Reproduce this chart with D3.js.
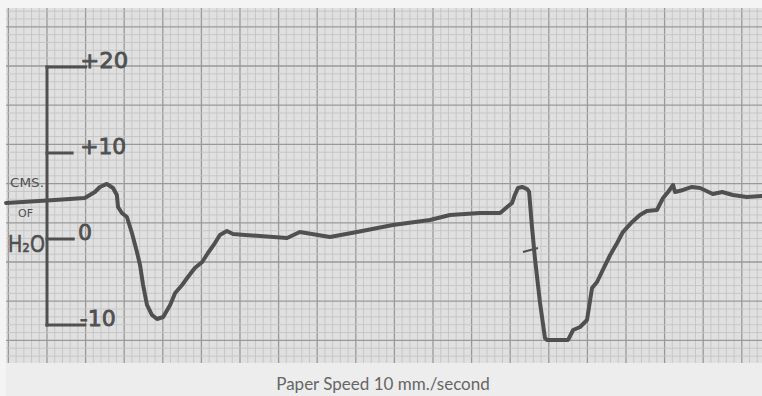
<!DOCTYPE html>
<html>
<head>
<meta charset="utf-8">
<script src="https://cdn.jsdelivr.net/npm/d3@7"></script>
<style>
  html,body{margin:0;padding:0;background:#f4f4f4;}
  svg{display:block;}
</style>
</head>
<body>
<svg id="chart" width="762" height="396"></svg>
<script>
// ---- data ----
// time (seconds, paper speed 10 mm/s) and pressure (cms of H2O)
const traceTime = [-1.06,0,0.98,1.24,1.37,1.55,1.71,1.81,1.84,1.94,2.07,2.20,2.33,2.41,2.49,2.59,2.72,2.85,3.01,3.19,3.32,3.50,3.65,3.83,4.02,4.17,4.35,4.48,4.66,4.82,5.13,5.52,
  6.22,6.55,7.33,8.03,8.96,9.92,10.44,11.22,
  11.74,11.92,12.05,12.12,12.20,12.31,12.44,12.49,12.56,12.64,12.77,12.90,12.95,13.50,13.63,13.81,13.99,14.12,14.25,14.40,14.59,14.77,14.92,15.16,15.36,15.54,15.80,15.96,16.09,16.22,16.27,16.48,16.71,16.92,17.25,17.49,17.77,18.13,18.52];
const tracePressure = [4.19,4.48,4.77,5.47,6.05,6.40,5.93,5.12,3.72,3.02,2.56,0.70,-1.51,-3.02,-5.35,-7.67,-8.84,-9.30,-9.07,-7.67,-6.28,-5.35,-4.42,-3.37,-2.67,-1.63,-0.47,0.47,0.93,0.58,0.47,0.35,
  0.12,0.81,0.23,0.81,1.63,2.21,2.79,3.02,
  3.02,3.72,4.19,5.12,5.93,6.05,5.81,5.47,1.63,-2.21,-7.33,-11.51,-11.74,-11.74,-10.58,-10.23,-9.42,-5.70,-5.00,-3.60,-1.86,-0.47,0.81,1.98,2.79,3.26,3.37,4.77,5.47,6.28,5.47,5.70,6.05,5.93,5.23,5.47,5.12,4.88,5.00];
const penMarkTime = [12.33, 12.72];
const penMarkPressure = [-1.51, -1.05];
const tickValues = [20, 10, 0, -10];
const tickLabels = ["+20", "+10", "0", "-10"];
const unitLabels = ["CMS.", "OF", "H\u2082O"];
const caption = "Paper Speed 10 mm./second";

// ---- scales ----
const x = d3.scaleLinear().domain([0, 1]).range([47, 85.6]);        // seconds -> px
const y = d3.scaleLinear().domain([0, 10]).range([239, 153]);       // cmH2O -> px
const yPaper = d3.scaleLinear().domain([0, 10]).range([66, 105.2]); // paper mm -> px

const svg = d3.select("#chart");
const paperLeft = 6, paperRight = 762, paperTop = 8, paperBottom = 363;

svg.append("rect").attr("x", 0).attr("y", 0).attr("width", 762).attr("height", 396).attr("fill", "#f4f4f4");
svg.append("rect").attr("x", paperLeft).attr("y", paperBottom).attr("width", 762 - paperLeft).attr("height", 396 - paperBottom).attr("fill", "#ededed");
svg.append("rect").attr("x", paperLeft).attr("y", paperTop).attr("width", paperRight - paperLeft).attr("height", paperBottom - paperTop).attr("fill", "#e0e0e0");

const grid = svg.append("g");
const tMin = x.invert(paperLeft), tMax = x.invert(paperRight);
const vTicks = d3.range(Math.ceil(tMin * 5), Math.floor(tMax * 5) + 1).map(i => i / 5);
const mmMin = yPaper.invert(paperTop), mmMax = yPaper.invert(paperBottom);
const hTicks = d3.range(Math.ceil(mmMin / 2), Math.floor(mmMax / 2) + 1).map(i => i * 2);
const isMajorT = d => Math.abs(d - Math.round(d)) < 1e-6;

grid.selectAll("line.v").data(vTicks).join("line").attr("class", "v")
  .attr("x1", d => x(d)).attr("x2", d => x(d))
  .attr("y1", paperTop).attr("y2", paperBottom)
  .attr("stroke", d => isMajorT(d) ? "#999" : "#c4c4c4")
  .attr("stroke-width", d => isMajorT(d) ? 1.3 : 0.9);
grid.selectAll("line.h").data(hTicks).join("line").attr("class", "h")
  .attr("y1", d => yPaper(d)).attr("y2", d => yPaper(d))
  .attr("x1", paperLeft).attr("x2", paperRight)
  .attr("stroke", d => d % 10 === 0 ? "#999" : "#c4c4c4")
  .attr("stroke-width", d => d % 10 === 0 ? 1.3 : 0.9);

const ink = "#505050";
// hand-drawn calibration axis
const ax = svg.append("g").attr("stroke", ink).attr("stroke-width", 3).attr("fill", "none").attr("stroke-linecap", "square");
ax.append("line").attr("x1", x(0)).attr("x2", x(0)).attr("y1", y(20)).attr("y2", y(-10));
const tickLen = {"20": 1.0, "10": 0.65, "0": 0.68, "-10": 0.98};
tickValues.forEach(v => {
  ax.append("line").attr("x1", x(0)).attr("x2", x(tickLen[v])).attr("y1", y(v)).attr("y2", y(v));
});
const labels = svg.append("g").attr("fill", ink).attr("stroke", ink).attr("stroke-width", 0.8)
  .attr("font-family", "DejaVu Sans").attr("font-size", 22);
const labelDx = {"20": 0.86, "10": 0.86, "0": 0.8, "-10": 0.85};
const labelLen = {"20": 48, "10": 46, "0": null, "-10": 36};
tickValues.forEach((v, i) => {
  labels.append("text").attr("x", x(labelDx[v])).attr("y", y(v) + 1)
    .attr("textLength", labelLen[v]).attr("lengthAdjust", "spacingAndGlyphs").text(tickLabels[i]);
});
const ul = svg.append("g").attr("fill", ink).attr("font-family", "DejaVu Sans");
ul.append("text").attr("x", 10).attr("y", 187).attr("font-size", 13).attr("textLength", 34).attr("lengthAdjust", "spacingAndGlyphs").text(unitLabels[0]);
ul.append("text").attr("x", 18).attr("y", 217).attr("font-size", 11).text(unitLabels[1]);
ul.append("text").attr("x", 8).attr("y", 252).attr("font-size", 23).attr("stroke", ink).attr("stroke-width", 0.6)
  .attr("textLength", 37).attr("lengthAdjust", "spacingAndGlyphs").text(unitLabels[2]);

// small pen mark on second trace
svg.append("line").attr("x1", x(penMarkTime[0])).attr("x2", x(penMarkTime[1]))
  .attr("y1", y(penMarkPressure[0])).attr("y2", y(penMarkPressure[1]))
  .attr("stroke", ink).attr("stroke-width", 2);

// trace
const line = d3.line().x(d => x(d[0])).y(d => y(d[1])).curve(d3.curveLinear);
svg.append("path").datum(d3.zip(traceTime, tracePressure))
  .attr("d", line).attr("fill", "none").attr("stroke", ink).attr("stroke-width", 4)
  .attr("stroke-linejoin", "round").attr("stroke-linecap", "round");

// caption
svg.append("text").attr("x", 383).attr("y", 390).attr("text-anchor", "middle")
  .attr("font-family", "Lato, 'Open Sans', sans-serif").attr("font-size", 17).attr("fill", "#666")
  .text(caption);
</script>
</body>
</html>
